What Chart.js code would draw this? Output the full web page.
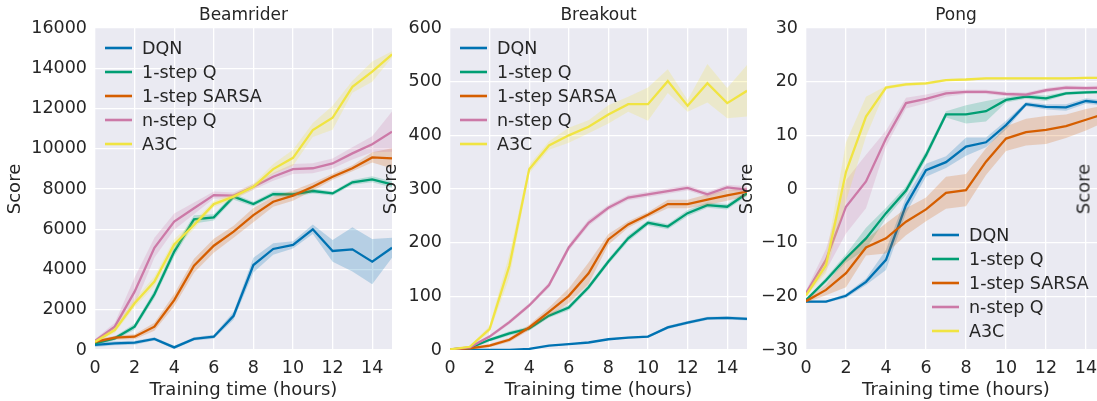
<!DOCTYPE html>
<html>
<head>
<meta charset="utf-8">
<script src="https://cdn.jsdelivr.net/npm/chart.js@4.4.0/dist/chart.umd.min.js"></script>
<style>
  html, body { margin: 0; padding: 0; background: #ffffff; overflow: hidden; }
  #wrap { position: relative; width: 1097px; height: 401px; overflow: hidden; }
  #wrap canvas { position: absolute; top: 0; }
  #nextScore {
    position: absolute; left: 1082.5px; top: 189px;
    font: 18px "DejaVu Sans", sans-serif; color: #262626; white-space: nowrap;
    transform: translate(-50%, -50%) rotate(-90deg);
  }
</style>
</head>
<body>
<div id="wrap">
  <canvas id="chartBeamrider" width="392" height="401" style="left:0px"></canvas>
  <canvas id="chartBreakout" width="372" height="401" style="left:375px"></canvas>
  <canvas id="chartPong" width="374" height="401" style="left:732px"></canvas>
  <div id="nextScore">Score</div>
</div>
<script>
/* ---------- data ---------- */
const hours = [0, 1, 2, 3, 4, 5, 6, 7, 8, 9, 10, 11, 12, 13, 14, 15];
const methods = ["DQN", "1-step Q", "1-step SARSA", "n-step Q", "A3C"];

// Beamrider
const beamDqn        = [250, 330, 365, 550, 130, 550, 660, 1700, 4220, 5020, 5220, 6000, 4920, 5000, 4390, 5080];
const beamDqnErr     = [100, 100, 100, 80, 80, 80, 100, 200, 370, 290, 180, 230, 540, 1100, 1120, 500];
const beamOneQ       = [330, 580, 1160, 2770, 4890, 6490, 6590, 7620, 7250, 7750, 7730, 7900, 7780, 8330, 8480, 8230];
const beamOneQErr    = [80, 100, 150, 200, 250, 200, 150, 150, 120, 120, 120, 120, 100, 120, 150, 150];
const beamSarsa      = [410, 610, 660, 1160, 2480, 4190, 5180, 5880, 6700, 7370, 7670, 8110, 8610, 9030, 9570, 9520];
const beamSarsaErr   = [100, 100, 120, 200, 300, 350, 350, 300, 350, 250, 250, 200, 150, 150, 250, 500];
const beamNStep      = [450, 1160, 2900, 5080, 6380, 7040, 7700, 7670, 8110, 8610, 8990, 9030, 9270, 9770, 10220, 10850];
const beamNStepErr   = [100, 200, 700, 500, 400, 290, 170, 150, 150, 200, 250, 250, 250, 300, 400, 1000];
const beamA3c        = [410, 990, 2320, 3400, 5250, 6210, 7250, 7620, 8110, 8990, 9550, 10930, 11540, 13080, 13830, 14690];
const beamA3cErr     = [80, 150, 200, 250, 250, 200, 150, 150, 150, 250, 400, 350, 600, 300, 500, 150];

// Breakout
const breakDqn       = [0, 0, 0, 0, 2, 8, 11, 14, 20, 23, 25, 42, 51, 59, 60, 58];
const breakDqnErr    = [0.5, 0.5, 0.5, 0.5, 1, 1, 1, 1, 1.5, 1.5, 2, 3, 3, 3, 3, 3];
const breakOneQ      = [1, 4, 19, 31, 40, 64, 79, 117, 165, 208, 237, 230, 255, 270, 267, 292];
const breakOneQErr   = [1, 2, 3, 4, 4, 4, 5, 5, 5, 6, 5, 5, 6, 5, 5, 5];
const breakSarsa     = [1, 3, 8, 19, 42, 71, 101, 143, 206, 234, 252, 272, 272, 280, 288, 295];
const breakSarsaErr  = [1, 2, 3, 4, 5, 8, 14, 20, 10, 6, 5, 8, 8, 10, 10, 8];
const breakNStep     = [1, 5, 25, 52, 83, 121, 191, 237, 265, 284, 290, 296, 302, 290, 303, 299];
const breakNStepErr  = [1, 2, 3, 4, 4, 5, 6, 6, 5, 5, 5, 5, 5, 5, 5, 6];
const breakA3c       = [1, 6, 39, 157, 337, 381, 400, 416, 439, 458, 458, 501, 455, 497, 460, 483];
const breakA3cErr    = [1, 2, 6, 22, 8, 8, 14, 12, 17, 14, 31, 22, 11, 36, 28, 48];

// Pong
const pongDqn        = [-21, -21, -19.9, -17.3, -13.2, -3.0, 3.5, 5.0, 7.9, 8.7, 11.9, 15.8, 15.3, 15.2, 16.4, 16.0];
const pongDqnErr     = [0.2, 0.2, 0.4, 0.6, 1.9, 1.5, 1.2, 1.1, 1.7, 0.9, 0.8, 0.4, 0.5, 0.6, 0.5, 0.5];
const pongOneQ       = [-20.7, -17.0, -12.9, -9.2, -4.5, -0.3, 6.3, 13.9, 13.9, 14.5, 16.6, 17.2, 16.9, 17.8, 18.0, 18.1];
const pongOneQErr    = [0.3, 0.5, 0.8, 2.0, 1.0, 0.8, 0.8, 0.6, 1.7, 1.9, 0.5, 0.4, 0.5, 0.3, 0.3, 0.3];
const pongSarsa      = [-20.9, -18.8, -15.7, -10.9, -9.2, -6.1, -3.8, -0.7, -0.2, 5.1, 9.4, 10.6, 11.0, 11.7, 12.9, 14.1];
const pongSarsaErr   = [0.3, 1.0, 2.6, 1.5, 2.8, 2.5, 2.2, 3.0, 3.0, 2.5, 2.3, 2.5, 2.6, 2.2, 2.0, 1.5];
const pongNStep      = [-19.4, -13.2, -3.3, 1.4, 9.4, 16.0, 16.8, 17.8, 18.1, 18.1, 17.7, 17.6, 18.4, 18.9, 18.8, 18.9];
const pongNStepErr   = [0.5, 2.0, 5.0, 5.0, 1.5, 1.0, 0.8, 0.6, 0.4, 0.4, 0.4, 0.4, 0.4, 0.4, 0.4, 0.4];
const pongA3c        = [-19.8, -14.2, 3.2, 13.5, 18.9, 19.5, 19.7, 20.3, 20.4, 20.6, 20.6, 20.6, 20.6, 20.6, 20.7, 20.7];
const pongA3cErr     = [0.3, 1.5, 5.5, 3.7, 0.3, 0.3, 0.3, 0.2, 0.2, 0.2, 0.2, 0.2, 0.2, 0.2, 0.2, 0.2];

/* ---------- style ---------- */
const palette = ["#0072B2", "#009E73", "#D55E00", "#CC79A7", "#F0E442"];
const textColor = "#262626";
const fontFamily = "'DejaVu Sans', sans-serif";

function withAlpha(hex, a) {
  const n = parseInt(hex.slice(1), 16);
  return `rgba(${(n >> 16) & 255}, ${(n >> 8) & 255}, ${n & 255}, ${a})`;
}

const plotBackground = {
  id: "plotBackground",
  beforeDraw(chart) {
    const { ctx, chartArea: a } = chart;
    ctx.save();
    ctx.fillStyle = "#EAEAF2";
    ctx.fillRect(a.left, a.top, a.width, a.height);
    ctx.restore();
  },
};

// matplotlib-style legend: short line + label, no frame
const lineLegend = {
  id: "lineLegend",
  afterDatasetsDraw(chart, args, opts) {
    const { ctx, chartArea: a } = chart;
    const items = chart.data.datasets.filter((d) => d.inLegend);
    ctx.save();
    ctx.font = `17.5px ${fontFamily}`;
    ctx.textBaseline = "middle";
    ctx.textAlign = "left";
    items.forEach((d, i) => {
      const x = a.left + opts.left;
      const y = a.top + opts.top + i * 24;
      ctx.strokeStyle = d.borderColor;
      ctx.lineWidth = 2.6;
      ctx.beginPath();
      ctx.moveTo(x, y);
      ctx.lineTo(x + 27, y);
      ctx.stroke();
      ctx.fillStyle = textColor;
      ctx.fillText(d.label, x + 37, y + 1);
    });
    ctx.restore();
  },
};

function buildDatasets(means, errs) {
  const datasets = [];
  means.forEach((mean, k) => {
    const color = palette[k];
    const err = errs[k];
    const lowerIndex = datasets.length + 1;
    datasets.push({
      data: hours.map((h, i) => ({ x: h, y: mean[i] + err[i] })),
      borderColor: "transparent",
      borderWidth: 0,
      pointRadius: 0,
      backgroundColor: withAlpha(color, 0.22),
      fill: lowerIndex,
      order: 100 - 2 * k,
    });
    datasets.push({
      data: hours.map((h, i) => ({ x: h, y: mean[i] - err[i] })),
      borderColor: "transparent",
      borderWidth: 0,
      pointRadius: 0,
      fill: false,
      order: 100 - 2 * k,
    });
    datasets.push({
      label: methods[k],
      inLegend: true,
      data: hours.map((h, i) => ({ x: h, y: mean[i] })),
      borderColor: color,
      borderWidth: 2.3,
      pointRadius: 0,
      fill: false,
      order: 99 - 2 * k,
    });
  });
  return datasets;
}

function makePanel(id, opts) {
  const canvas = document.getElementById(id);
  return new Chart(canvas, {
    type: "line",
    data: { datasets: buildDatasets(opts.means, opts.errs) },
    plugins: [plotBackground, lineLegend],
    options: {
      responsive: false,
      animation: false,
      events: [],
      layout: { padding: 0 },
      plugins: {
        legend: { display: false },
        tooltip: { enabled: false },
        title: {
          display: true,
          text: opts.title,
          fullSize: false,
          color: textColor,
          font: { family: fontFamily, size: 17, weight: "normal" },
          padding: { top: 5, bottom: 2.6 },
        },
        lineLegend: opts.legend,
      },
      scales: {
        x: {
          type: "linear",
          min: 0,
          max: 15,
          border: { display: false },
          grid: { color: "#ffffff", lineWidth: 1.3, drawTicks: false },
          ticks: {
            stepSize: 2,
            includeBounds: false,
            padding: 7.5,
            color: textColor,
            font: { family: fontFamily, size: 17.5 },
            callback: (v) => String(v),
          },
          title: {
            display: true,
            text: "Training time (hours)",
            color: textColor,
            font: { family: fontFamily, size: 18 },
            padding: { top: 0, bottom: 0 },
          },
          afterFit: (s) => { s.height = 51; },
        },
        y: {
          min: opts.yMin,
          max: opts.yMax,
          border: { display: false },
          grid: { color: "#ffffff", lineWidth: 1.3, drawTicks: false },
          ticks: {
            stepSize: opts.yStep,
            padding: 8,
            color: textColor,
            font: { family: fontFamily, size: 17.5 },
            callback: (v) => (v < 0 ? "\u2212" + Math.abs(v) : String(v)),
          },
          title: {
            display: true,
            text: "Score",
            color: textColor,
            font: { family: fontFamily, size: 18 },
            padding: { top: opts.yTitlePad, bottom: 0 },
          },
          afterFit: (s) => { s.width = opts.yWidth; },
        },
      },
    },
  });
}

makePanel("chartBeamrider", {
  title: "Beamrider",
  means: [beamDqn, beamOneQ, beamSarsa, beamNStep, beamA3c],
  errs: [beamDqnErr, beamOneQErr, beamSarsaErr, beamNStepErr, beamA3cErr],
  yMin: 0, yMax: 16000, yStep: 2000,
  yWidth: 95, yTitlePad: 4.2,
  legend: { left: 10, top: 20 },
});

makePanel("chartBreakout", {
  title: "Breakout",
  means: [breakDqn, breakOneQ, breakSarsa, breakNStep, breakA3c],
  errs: [breakDqnErr, breakOneQErr, breakSarsaErr, breakNStepErr, breakA3cErr],
  yMin: 0, yMax: 600, yStep: 100,
  yWidth: 75, yTitlePad: 5.7,
  legend: { left: 10, top: 20 },
});

makePanel("chartPong", {
  title: "Pong",
  means: [pongDqn, pongOneQ, pongSarsa, pongNStep, pongA3c],
  errs: [pongDqnErr, pongOneQErr, pongSarsaErr, pongNStepErr, pongA3cErr],
  yMin: -30, yMax: 30, yStep: 10,
  yWidth: 74, yTitlePad: 4.2,
  legend: { left: 126, top: 207 },
});
</script>
</body>
</html>
